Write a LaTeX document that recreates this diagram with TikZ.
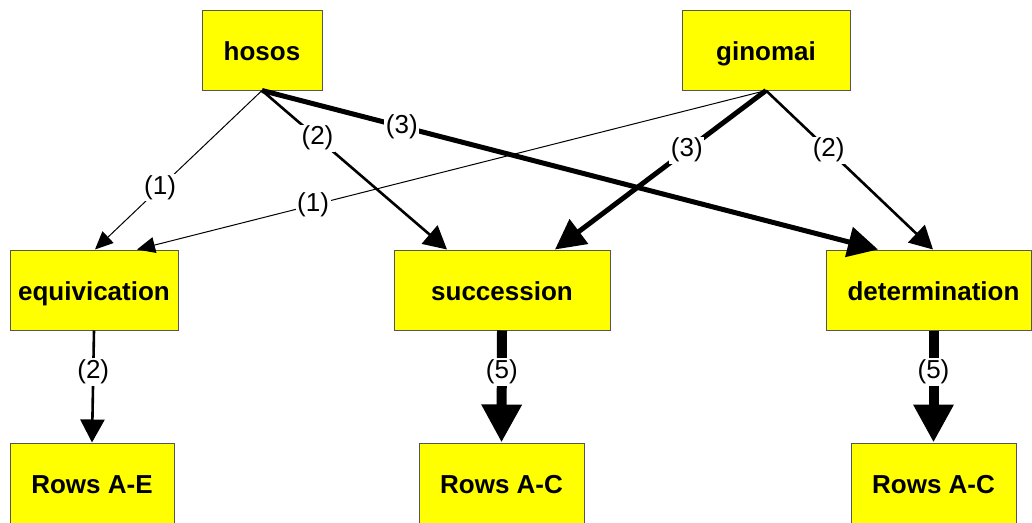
\documentclass[tikz,border=0pt]{standalone}
\usepackage{fontspec}
\setmainfont{Liberation Sans}
\usetikzlibrary{arrows.meta}
\definecolor{boxyellow}{RGB}{255,255,0}
\definecolor{boxborder}{RGB}{85,85,85}
\begin{document}
\begin{tikzpicture}[x=1pt,y=-1pt,
 box/.style={draw=boxborder, line width=1pt, fill=boxyellow, minimum height=80pt, inner sep=0pt, text height=20pt, text depth=0pt, font=\fontsize{26}{30}\selectfont\bfseries},
 lbl/.style={fill=white, inner sep=1.5pt, font=\fontsize{26}{30}\selectfont},
 wa/.style={line width=1pt, -{Triangle[length=18pt,width=16pt]}},
 wb/.style={line width=2.6pt, -{Triangle[length=23pt,width=24pt]}},
 wc/.style={line width=5pt, -{Triangle[length=30pt,width=30pt]}},
 we/.style={line width=10pt, -{Triangle[length=38pt,width=38pt]}},
]
\useasboundingbox[fill=white] (0,0) rectangle (1032,522);
\node[box, minimum width=120pt] (hosos) at (262,50) {hosos};
\node[box, minimum width=168pt] (ginomai) at (766,50) {ginomai};
\node[box, minimum width=168pt] (equiv) at (94,290) {equivication};
\node[box, minimum width=216pt] (succ) at (502,290) {succession};
\node[box, minimum width=205pt] (det) at (928.5,290) {\hspace*{10pt}determination};
\node[box, minimum width=164pt] (rowsE) at (92,483) {Rows A-E};
\node[box, minimum width=165pt] (rowsC1) at (501.5,483) {Rows A-C};
\node[box, minimum width=165pt] (rowsC2) at (933.5,483) {Rows A-C};

\draw[wa] (hosos.south) -- node[lbl,pos=0.61]{(1)} ([xshift=1pt]equiv.north);
\draw[wb] (hosos.south) -- node[lbl,pos=0.30]{(2)} ([xshift=-55pt]succ.north);
\draw[wc] (hosos.south) -- node[lbl,pos=0.227]{(3)} ([xshift=-50.5pt]det.north);
\draw[wa] (ginomai.south) -- node[lbl,pos=0.72]{(1)} ([xshift=43pt]equiv.north);
\draw[wc] (ginomai.south) -- node[lbl,pos=0.375]{(3)} ([xshift=53pt]succ.north);
\draw[wb] (ginomai.south) -- node[lbl,pos=0.375]{(2)} ([xshift=4.5pt]det.north);
\draw[wb] (equiv.south) -- node[lbl,pos=0.37]{(2)} (rowsE.north);
\draw[we] (succ.south) -- node[lbl,pos=0.37]{(5)} (rowsC1.north);
\draw[we] ([xshift=5pt]det.south) -- node[lbl,pos=0.37]{(5)} (rowsC2.north);
\end{tikzpicture}
\end{document}
